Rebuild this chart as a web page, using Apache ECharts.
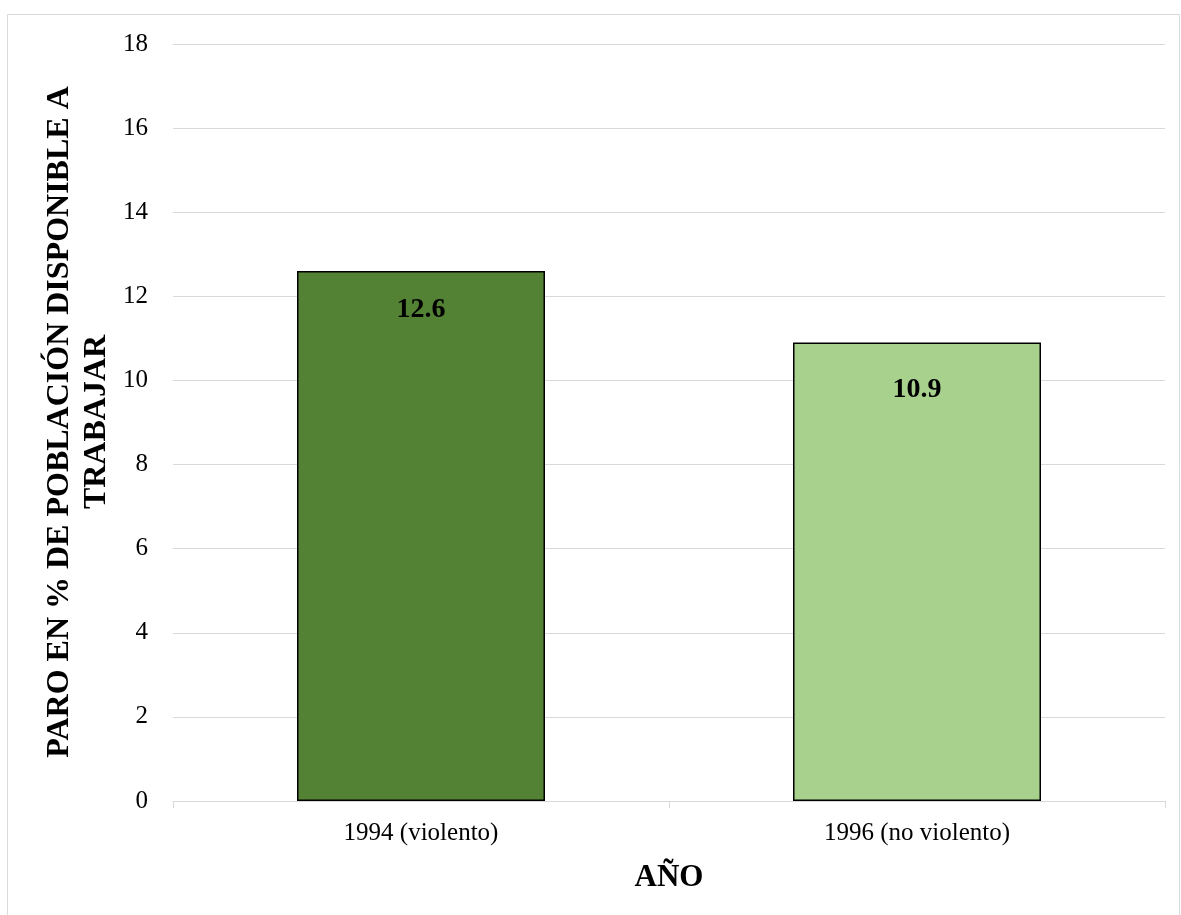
<!DOCTYPE html>
<html><head><meta charset="utf-8">
<script src="https://cdn.jsdelivr.net/npm/echarts@6/dist/echarts.min.js"></script>
<style>html,body{margin:0;padding:0;background:#fff}#c{width:1181px;height:915px}</style>
</head><body><div id="c"></div>
<script>
const categories = ['1994 (violento)', '1996 (no violento)'];
const values = [12.6, 10.9];
const barColors = ['#548235', '#A9D18E'];
const labelDistances = [25, 33];
const yTitle = 'PARO EN % DE POBLACIÓN DISPONIBLE A\nTRABAJAR';
const xTitle = 'AÑO';
const font = '"Liberation Serif", "Times New Roman", serif';

const chart = echarts.init(document.getElementById('c'));
chart.setOption({
  backgroundColor: '#fff',
  animation: false,
  graphic: [{
    type: 'rect', shape: {x: 7.5, y: 14.5, width: 1172, height: 910},
    style: {fill: 'none', stroke: '#d9d9d9', lineWidth: 1}, z: -1
  }, {
    type: 'text', x: 78, y: 422, rotation: Math.PI / 2,
    style: {text: yTitle, font: 'bold 32px ' + font, fill: '#000',
      align: 'center', verticalAlign: 'middle', lineHeight: 37}
  }],
  grid: {left: 173, right: 16, top: 44, bottom: 114},
  xAxis: {
    type: 'category', data: categories,
    name: xTitle, nameLocation: 'middle', nameGap: 61,
    nameTextStyle: {fontFamily: font, fontWeight: 'bold', fontSize: 31, color: '#000'},
    axisLine: {lineStyle: {color: '#d9d9d9', width: 1}},
    axisTick: {show: true, length: 7, lineStyle: {color: '#d9d9d9'}},
    axisLabel: {fontFamily: font, fontSize: 25, color: '#000', margin: 20}
  },
  yAxis: {
    type: 'value', min: 0, max: 18, interval: 2,
    axisLine: {show: false}, axisTick: {show: false},
    axisLabel: {fontFamily: font, fontSize: 25, color: '#000', margin: 25},
    splitLine: {lineStyle: {color: '#d9d9d9', width: 1}}
  },
  series: [{
    type: 'bar', barWidth: '50%',
    data: values.map((v, i) => ({value: v, itemStyle: {color: barColors[i]}, label: {distance: labelDistances[i]}})),
    itemStyle: {borderColor: '#000', borderWidth: 1.5},
    label: {show: true, position: 'insideTop', formatter: p => p.value.toFixed(1),
      fontFamily: font, fontWeight: 'bold', fontSize: 28, color: '#000'}
  }]
});
</script></body></html>
